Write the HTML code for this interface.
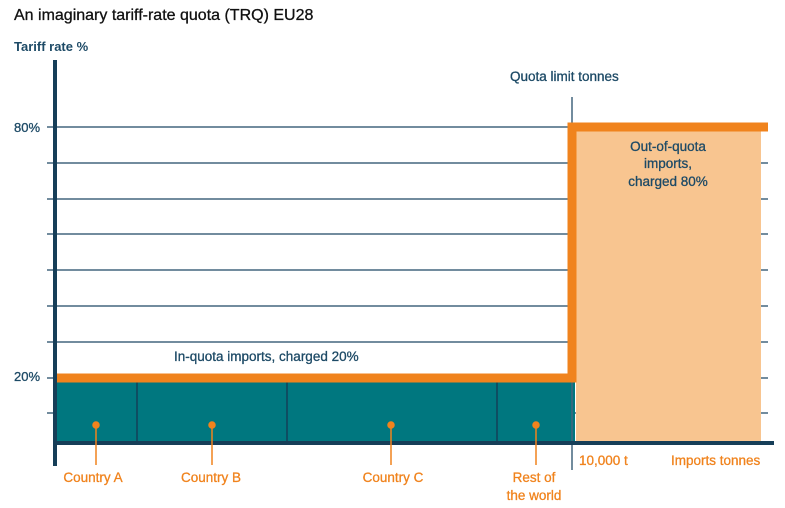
<!DOCTYPE html>
<html><head><meta charset="utf-8"><style>
body{margin:0;background:#fff;}
svg{display:block;font-family:"Liberation Sans",sans-serif;}
</style></head><body>
<svg width="785" height="508" viewBox="0 0 785 508">
<text x="14" y="20" font-size="16" fill="#111" stroke="#111" stroke-width="0.3">An imaginary tariff-rate quota (TRQ) EU28</text>
<text x="14" y="51" font-size="13" fill="#1d4a66" font-weight="bold">Tariff rate %</text>
<g stroke="#44667e" stroke-width="1.5">
<line x1="47" y1="127" x2="768" y2="127"/>
<line x1="47" y1="163" x2="768" y2="163"/>
<line x1="47" y1="199" x2="768" y2="199"/>
<line x1="47" y1="234" x2="768" y2="234"/>
<line x1="47" y1="270" x2="768" y2="270"/>
<line x1="47" y1="306" x2="768" y2="306"/>
<line x1="47" y1="342" x2="768" y2="342"/>
<line x1="47" y1="378" x2="768" y2="378"/>
<line x1="47" y1="413" x2="768" y2="413"/>
</g>
<rect x="576" y="131" width="185" height="311" fill="#f8c590"/>
<rect x="57" y="382" width="518" height="60" fill="#00777f"/>
<g stroke="#124058" stroke-width="1.5">
<line x1="137" y1="382" x2="137" y2="442"/>
<line x1="287" y1="382" x2="287" y2="442"/>
<line x1="497" y1="382" x2="497" y2="442"/>
</g>
<line x1="572" y1="97" x2="572" y2="470" stroke="#44667e" stroke-width="1.5"/>
<path d="M55 378 H572 V127 H768" fill="none" stroke="#f0831d" stroke-width="9"/>
<line x1="55" y1="60" x2="55" y2="466" stroke="#163e58" stroke-width="4"/>
<line x1="53" y1="443" x2="774" y2="443" stroke="#163e58" stroke-width="4"/>
<g stroke-width="0.3">
<text x="14" y="132" font-size="13" fill="#1d4a66" stroke="#1d4a66">80%</text>
<text x="14" y="381" font-size="13" fill="#1d4a66" stroke="#1d4a66">20%</text>
<text x="174" y="361" font-size="13.5" fill="#1d4a66" stroke="#1d4a66">In-quota imports, charged 20%</text>
<text x="510" y="81" font-size="13.5" fill="#1d4a66" stroke="#1d4a66">Quota limit tonnes</text>
<g font-size="13.5" fill="#1d4a66" stroke="#1d4a66" text-anchor="middle">
<text x="668" y="151">Out-of-quota</text>
<text x="668" y="168">imports,</text>
<text x="668" y="186">charged 80%</text>
</g>
</g>
<g stroke="#f0831d" stroke-width="1.5" fill="#f0831d">
<line x1="96" y1="425" x2="96" y2="465"/><circle cx="96" cy="425" r="3"/>
<line x1="212" y1="425" x2="212" y2="465"/><circle cx="212" cy="425" r="3"/>
<line x1="391" y1="425" x2="391" y2="465"/><circle cx="391" cy="425" r="3"/>
<line x1="536" y1="425" x2="536" y2="465"/><circle cx="536" cy="425" r="3"/>
</g>
<g font-size="13.5" fill="#f0831d" stroke="#f0831d" stroke-width="0.3" text-anchor="middle">
<text x="93" y="482">Country A</text>
<text x="211" y="482">Country B</text>
<text x="393" y="482">Country C</text>
<text x="534" y="482">Rest of</text>
<text x="534" y="500">the world</text>
</g>
<g font-size="13.5" fill="#f0831d" stroke="#f0831d" stroke-width="0.3">
<text x="579" y="465">10,000 t</text>
<text x="671" y="465">Imports tonnes</text>
</g>
</svg>
</body></html>
